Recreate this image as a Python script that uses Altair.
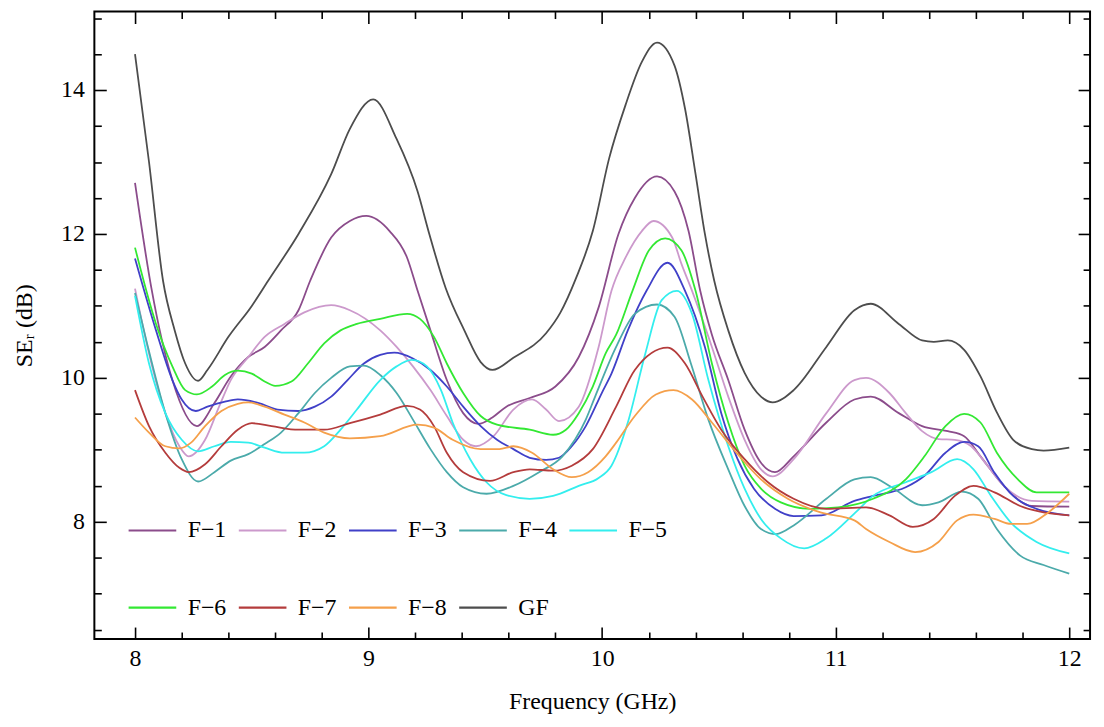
import altair as alt
import pandas as pd

SERIES = ["F\u22121", "F\u22122", "F\u22123", "F\u22124", "F\u22125", "F\u22126", "F\u22127", "F\u22128", "GF"]
COLORS = ["#8B4C8B", "#CC99CC", "#4040C8", "#4BAAAA", "#33EEEE", "#33E833", "#B43C3C", "#F5A04B", "#4D4D4D"]

F1 = [(8.00,12.71),(8.07,11.25),(8.16,9.97),(8.265,9.33),(8.34,9.65),(8.41,10.02),(8.485,10.29),(8.555,10.43),
      (8.625,10.66),(8.70,10.94),(8.75,11.35),(8.84,11.95),(8.92,12.18),(8.99,12.25),(9.09,12.04),(9.165,11.67),
      (9.21,11.21),(9.265,10.66),(9.335,9.97),(9.405,9.51),(9.47,9.36),(9.53,9.45),(9.59,9.60),(9.69,9.72),
      (9.80,9.88),(9.90,10.29),(9.985,10.98),(10.07,12.0),(10.14,12.5),(10.235,12.80),(10.31,12.59),(10.37,12.04),
      (10.42,11.21),(10.47,10.6),(10.54,9.97),(10.61,9.28),(10.68,8.82),(10.74,8.69),(10.82,8.91),(10.96,9.38),
      (11.08,9.70),(11.15,9.74),(11.27,9.51),(11.37,9.33),(11.48,9.26),(11.55,9.19),(11.62,8.91),(11.72,8.50),
      (11.84,8.22),(12.0,8.21)]
F2 = [(8.00,11.24),(8.06,10.34),(8.13,9.51),(8.19,9.05),(8.23,8.91),(8.30,9.14),(8.36,9.60),(8.41,9.97),
      (8.485,10.29),(8.555,10.57),(8.64,10.75),(8.725,10.91),(8.84,11.01),(8.92,10.94),(9.05,10.66),(9.12,10.43),
      (9.19,10.16),(9.265,9.83),(9.335,9.47),(9.405,9.14),(9.46,9.05),(9.535,9.19),(9.62,9.56),(9.70,9.70),
      (9.76,9.56),(9.815,9.40),(9.90,9.60),(9.985,10.43),(10.04,11.21),(10.10,11.67),(10.17,12.04),(10.22,12.18),
      (10.30,11.95),(10.34,11.58),(10.385,11.21),(10.47,10.43),(10.54,9.74),(10.61,9.14),(10.68,8.73),(10.73,8.63),
      (10.82,8.87),(10.96,9.51),(11.08,9.97),(11.13,10.0),(11.23,9.79),(11.30,9.51),(11.37,9.26),(11.44,9.15),
      (11.51,9.14),(11.58,9.05),(11.65,8.78),(11.72,8.50),(11.84,8.29),(12.0,8.28)]
F3 = [(8.00,11.66),(8.09,10.66),(8.16,9.97),(8.20,9.70),(8.26,9.54),(8.31,9.60),(8.385,9.67),(8.44,9.70),
      (8.53,9.65),(8.61,9.56),(8.70,9.54),(8.77,9.60),(8.84,9.74),(8.91,9.97),(8.98,10.20),(9.05,10.32),
      (9.11,10.35),(9.19,10.27),(9.265,10.11),(9.335,9.88),(9.405,9.60),(9.48,9.33),(9.55,9.14),(9.62,9.01),
      (9.69,8.89),(9.76,8.86),(9.815,8.89),(9.87,9.05),(9.93,9.33),(10.0,9.80),(10.04,10.06),(10.11,10.66),
      (10.19,11.21),(10.28,11.60),(10.355,11.21),(10.44,10.43),(10.51,9.51),(10.58,8.87),(10.65,8.46),(10.74,8.18),
      (10.82,8.08),(10.94,8.09),(11.08,8.29),(11.16,8.36),(11.30,8.48),(11.38,8.64),(11.47,8.96),(11.55,9.11),
      (11.61,9.05),(11.68,8.68),(11.76,8.36),(11.86,8.18),(12.0,8.09)]
F4 = [(8.00,11.18),(8.05,10.5),(8.13,9.51),(8.20,8.87),(8.27,8.56),(8.34,8.69),(8.41,8.85),(8.485,8.94),
      (8.555,9.08),(8.625,9.24),(8.70,9.51),(8.77,9.79),(8.84,10.0),(8.92,10.16),(8.98,10.17),(9.05,10.04),
      (9.12,9.79),(9.19,9.42),(9.265,9.01),(9.335,8.69),(9.405,8.48),(9.505,8.39),(9.62,8.50),(9.73,8.69),
      (9.83,8.91),(9.93,9.42),(9.97,9.74),(10.06,10.43),(10.14,10.89),(10.235,11.02),(10.31,10.85),(10.38,10.20),
      (10.455,9.42),(10.54,8.73),(10.61,8.22),(10.68,7.90),(10.745,7.83),(10.82,7.95),(10.96,8.32),(11.08,8.59),
      (11.15,8.62),(11.24,8.48),(11.37,8.23),(11.44,8.27),(11.54,8.42),(11.61,8.32),(11.69,7.90),(11.79,7.53),
      (11.89,7.40),(12.0,7.28)]
F5 = [(8.00,11.14),(8.06,10.20),(8.13,9.51),(8.20,9.14),(8.27,8.98),(8.34,9.05),(8.41,9.11),(8.485,9.10),
      (8.555,9.03),(8.64,8.96),(8.725,8.96),(8.81,9.05),(8.88,9.28),(8.95,9.56),(9.05,9.97),(9.12,10.16),
      (9.185,10.25),(9.25,10.16),(9.31,9.83),(9.36,9.38),(9.435,8.87),(9.505,8.55),(9.59,8.37),(9.69,8.32),
      (9.79,8.36),(9.90,8.50),(9.985,8.61),(10.04,8.78),(10.11,9.38),(10.185,10.34),(10.255,11.08),(10.32,11.21),
      (10.385,10.89),(10.455,9.97),(10.54,9.05),(10.61,8.46),(10.68,8.04),(10.765,7.77),(10.865,7.63),(10.96,7.77),
      (11.085,8.13),(11.16,8.36),(11.30,8.55),(11.41,8.69),(11.52,8.87),(11.59,8.73),(11.665,8.36),(11.75,7.99),
      (11.86,7.72),(12.0,7.56)]
F6 = [(8.00,11.81),(8.09,10.75),(8.16,10.16),(8.215,9.83),(8.265,9.77),(8.33,9.88),(8.385,10.04),(8.44,10.10),
      (8.50,10.06),(8.555,9.95),(8.60,9.89),(8.67,9.95),(8.74,10.20),(8.81,10.48),(8.88,10.66),(8.95,10.75),
      (9.05,10.82),(9.165,10.89),(9.22,10.82),(9.28,10.57),(9.335,10.20),(9.405,9.79),(9.48,9.47),(9.55,9.35),
      (9.69,9.28),(9.79,9.21),(9.845,9.28),(9.90,9.51),(9.96,9.88),(10.015,10.34),(10.06,10.6),(10.13,11.21),
      (10.20,11.77),(10.27,11.94),(10.34,11.77),(10.40,11.21),(10.47,10.20),(10.54,9.38),(10.61,8.78),(10.68,8.46),
      (10.765,8.27),(10.89,8.18),(11.01,8.20),(11.16,8.32),(11.30,8.59),(11.38,8.91),(11.47,9.33),(11.55,9.50),
      (11.62,9.38),(11.69,8.96),(11.78,8.59),(11.86,8.41),(12.0,8.41)]
F7 = [(8.00,9.83),(8.06,9.33),(8.13,8.96),(8.19,8.75),(8.23,8.69),(8.30,8.80),(8.37,9.05),(8.44,9.28),
      (8.50,9.37),(8.585,9.33),(8.70,9.28),(8.81,9.28),(8.92,9.37),(9.05,9.49),(9.165,9.61),(9.22,9.56),
      (9.28,9.33),(9.335,8.96),(9.405,8.69),(9.52,8.57),(9.62,8.69),(9.69,8.73),(9.79,8.71),(9.87,8.78),
      (9.96,9.01),(10.06,9.60),(10.14,10.11),(10.28,10.42),(10.355,10.20),(10.43,9.74),(10.51,9.28),(10.61,8.87),
      (10.71,8.55),(10.82,8.32),(10.96,8.18),(11.13,8.20),(11.23,8.09),(11.33,7.93),(11.42,8.04),(11.51,8.36),
      (11.59,8.50),(11.68,8.41),(11.79,8.22),(11.89,8.13),(12.0,8.09)]
F8 = [(8.00,9.45),(8.06,9.24),(8.13,9.05),(8.19,9.02),(8.24,9.10),(8.30,9.33),(8.37,9.54),(8.44,9.64),
      (8.485,9.66),(8.555,9.60),(8.64,9.49),(8.725,9.38),(8.81,9.24),(8.92,9.16),(9.05,9.19),(9.21,9.35),
      (9.28,9.31),(9.36,9.14),(9.48,9.01),(9.56,9.01),(9.62,9.05),(9.70,8.96),(9.79,8.73),(9.87,8.62),
      (9.94,8.69),(10.015,8.91),(10.06,9.10),(10.14,9.47),(10.23,9.77),(10.305,9.83),(10.385,9.70),(10.47,9.38),
      (10.575,8.96),(10.68,8.59),(10.795,8.32),(10.935,8.13),(11.08,8.02),(11.13,7.90),(11.23,7.72),(11.34,7.58),
      (11.44,7.72),(11.52,8.02),(11.59,8.10),(11.68,8.04),(11.75,7.97),(11.82,7.97),(11.91,8.13),(12.0,8.39)]
GF = [(8.00,14.50),(8.06,13.0),(8.12,11.35),(8.17,10.66),(8.215,10.2),(8.27,9.96),(8.31,10.11),(8.40,10.57),
      (8.50,11.0),(8.57,11.35),(8.70,12.0),(8.84,12.83),(8.92,13.46),(9.02,13.87),(9.12,13.32),(9.21,12.59),
      (9.26,12.0),(9.33,11.25),(9.41,10.66),(9.48,10.22),(9.53,10.11),(9.62,10.28),(9.76,10.62),(9.82,10.9),
      (9.89,11.40),(9.96,12.04),(10.03,13.05),(10.10,13.79),(10.17,14.39),(10.235,14.66),(10.31,14.34),(10.355,13.74),
      (10.40,12.83),(10.44,12.0),(10.48,11.35),(10.54,10.66),(10.61,10.07),(10.68,9.74),(10.73,9.66),(10.82,9.83),
      (10.96,10.43),(11.08,10.94),(11.15,11.03),(11.27,10.75),(11.37,10.52),(11.42,10.50),(11.48,10.52),(11.55,10.39),
      (11.62,10.02),(11.69,9.52),(11.76,9.14),(11.84,9.01),(11.89,8.99),(12.00,9.03)]

X_LABELS = [8, 9, 10, 11, 12]
Y_LABELS = [8, 10, 12, 14]
X_TICKS = [round(8 + 0.2 * i, 1) for i in range(21)]
Y_TICKS = [round(6.5 + 0.5 * i, 1) for i in range(18)]

rows = []
for name, pts in zip(SERIES, [F1, F2, F3, F4, F5, F6, F7, F8, GF]):
    for i, (xv, yv) in enumerate(pts):
        rows.append({"series": name, "x": xv, "y": yv, "i": i})
df = pd.DataFrame(rows)

W, H = 1003, 632
FONT = "Liberation Serif, Times New Roman, DejaVu Serif, serif"
FS = 24
xs = alt.Scale(domain=[7.826, 12.089], nice=False, zero=False)
ys = alt.Scale(domain=[6.372, 15.09], nice=False, zero=False)

x_tick_size = {"condition": {"test": "abs(datum.value - round(datum.value)) < 0.001", "value": 12}, "value": 7}
y_tick_size = {"condition": {"test": "abs(datum.value % 2) < 0.001", "value": 12}, "value": 7}

base = alt.Chart(df)

lines = base.mark_line(interpolate="monotone", strokeWidth=1.8, clip=True).encode(
    x=alt.X("x:Q", scale=xs, axis=alt.Axis(
        orient="bottom", values=X_LABELS, format="d", ticks=False, domain=False, grid=False,
        labelPadding=8, labelFont=FONT, labelFontSize=FS, labelColor="black",
        title="Frequency (GHz)", titleFont=FONT, titleFontSize=FS, titleFontWeight="normal",
        titleColor="black", titlePadding=19)),
    y=alt.Y("y:Q", scale=ys, axis=alt.Axis(
        orient="left", values=Y_LABELS, format="d", ticks=False, domain=False, grid=False,
        labelPadding=10, labelFont=FONT, labelFontSize=FS, labelColor="black",
        title="SE\u1D63 (dB)", titleFont=FONT, titleFontSize=FS, titleFontWeight="normal",
        titleColor="black", titlePadding=24)),
    color=alt.Color("series:N", scale=alt.Scale(domain=SERIES, range=COLORS), legend=alt.Legend(
        orient="none", legendX=33, legendY=497, direction="horizontal", columns=5,
        symbolType="stroke", symbolSize=2304, symbolStrokeWidth=2.2,
        labelFont=FONT, labelFontSize=FS, labelColor="black", labelOffset=10,
        columnPadding=8, rowPadding=40, title=None, padding=0)),
    order="i:Q",
)

ticks_a = base.mark_line(strokeOpacity=0).encode(
    x=alt.X("x:Q", scale=xs, axis=alt.Axis(
        orient="top", offset=-H, values=X_TICKS, labels=False, domain=False, grid=False,
        tickSize=x_tick_size, tickWidth=1.6, tickColor="black", title=None)),
    y=alt.Y("y:Q", scale=ys, axis=alt.Axis(
        orient="right", offset=-W, values=Y_TICKS, labels=False, domain=False, grid=False,
        tickSize=y_tick_size, tickWidth=1.6, tickColor="black", title=None)),
    detail="series:N",
)

ticks_b = base.mark_line(strokeOpacity=0).encode(
    x=alt.X("x:Q", scale=xs, axis=alt.Axis(
        orient="bottom", offset=-H, values=X_TICKS, labels=False, domain=False, grid=False,
        tickSize=x_tick_size, tickWidth=1.6, tickColor="black", title=None)),
    y=alt.Y("y:Q", scale=ys, axis=alt.Axis(
        orient="left", offset=-W, values=Y_TICKS, labels=False, domain=False, grid=False,
        tickSize=y_tick_size, tickWidth=1.6, tickColor="black", title=None)),
    detail="series:N",
)

chart = alt.layer(lines, ticks_a, ticks_b).resolve_axis(
    x="independent", y="independent"
).properties(
    width=W, height=H,
    autosize=alt.AutoSizeParams(type="none"),
    padding={"left": 87, "top": 1, "right": 6, "bottom": 78},
    background="white",
).configure_view(stroke="black", strokeWidth=2)

chart.save("out.html", embed_options={"renderer": "svg", "actions": False})
